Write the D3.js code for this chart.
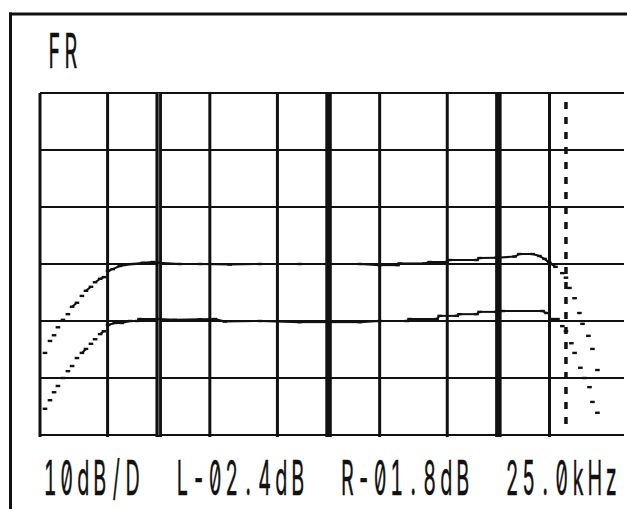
<!DOCTYPE html>
<html>
<head>
<meta charset="utf-8">
<script src="https://cdn.jsdelivr.net/npm/d3@7"></script>
<style>
  html, body { margin: 0; padding: 0; background: #fff; }
  svg { display: block; }
</style>
</head>
<body>
<svg id="chart" width="627" height="509"></svg>
<script>
// Frequency response screen: two channels, log frequency axis, 10 dB per division.

// Grid frequencies (Hz); decades are drawn heavier
const gridFreqs = [20, 50, 100, 200, 500, 1000, 2000, 5000, 10000, 20000];
const decadeFreqs = [100, 1000, 10000];
// Level grid (dB), 10 dB per division
const levelTicks = [-30, -20, -10, 0, 10, 20, 30];

// Left channel: frequency (Hz) and level (dB)
const lFreq = [21.4, 22.9, 24.2, 25.5, 27.3, 29.2, 30.9, 33.0, 35.3, 37.3, 39.9, 42.2, 45.2, 47.6, 50.3,
  53.6, 59, 70.5, 80.7, 92.4, 100, 133, 175, 262, 394, 676, 1000, 1526, 2000, 2550, 2620, 3680, 3940,
  4955, 5160, 7435, 7750, 9750, 12450, 13300, 15900, 17460, 18700, 20000, 21700, 23800, 25000, 26200,
  28100, 30000, 31300, 33900, 35800, 38300];
const lLevel = [-15.6, -13.5, -12.5, -11.1, -9.8, -8.8, -7.5, -6.8, -5.6, -4.7, -4.0, -3.2, -2.6, -2.3, -1.2,
  -0.9, -0.35, 0, 0.2, 0.35, 0.2, 0, 0, -0.1, 0, 0, 0, 0, -0.2, -0.2, 0.1, 0.1, 0.35,
  0.35, 0.7, 0.7, 1.05, 1.1, 1.3, 1.75, 1.75, 1.4, 0.9, 0.2, -0.5, -1.6, -2.4, -4.2,
  -6.0, -8.6, -10.5, -12.6, -14.9, -18.6];

// Right channel: frequency (Hz) and level (dB)
const rFreq = [21.4, 22.9, 24.2, 25.5, 27.3, 29.2, 30.9, 33.0, 35.3, 37.3, 39.9, 42.2, 45.2, 47.6, 50.3,
  55.2, 60.5, 68, 74.4, 77.1, 100, 124, 175, 214, 245, 394, 676, 1000, 1526, 2000, 2885, 3000, 4330,
  4510, 5680, 5900, 7435, 7750, 9750, 10600, 18200, 19200, 20800, 22300, 23800, 25000, 26900, 28100,
  30400, 32100, 34400, 35800, 38300];
const rLevel = [-15.4, -13.9, -12.5, -11.4, -10.0, -8.8, -7.9, -6.5, -5.6, -4.9, -4.0, -3.2, -2.3, -1.8, -0.7,
  -0.35, -0.35, 0, 0, 0.35, 0.35, 0.2, 0.3, 0.35, -0.1, 0, -0.2, -0.2, -0.2, 0, 0, 0.35, 0.35,
  0.9, 0.9, 1.2, 1.2, 1.6, 1.6, 1.75, 1.75, 1.4, 0.35, 0.35, -0.9, -1.8, -3.9, -5.6,
  -8.2, -10.0, -11.6, -14.2, -16.1];

// Right channel trace is shown one division lower
const rDisplayOffset = -10;

// Cursor and readouts
const cursorFreq = 25000;
const titleText = "FR";
const scaleText = "10dB/D";

const svg = d3.select("#chart");

const plot = { left: 40, right: 624, top: 93, bottom: 435 };

const x = d3.scaleLog().domain([20, 20000]).range([plot.left, 549.5]);
const y = d3.scaleLinear().domain([-30, 30]).range([plot.bottom, plot.top]);

// Outer frame (top and left edges)
svg.append("line").attr("x1", 9).attr("x2", 627).attr("y1", 14).attr("y2", 14)
  .attr("stroke", "#111").attr("stroke-width", 3);
svg.append("line").attr("x1", 10.5).attr("x2", 10.5).attr("y1", 12.5).attr("y2", 509)
  .attr("stroke", "#111").attr("stroke-width", 3);

// Horizontal grid
svg.append("g").selectAll("line").data(levelTicks).join("line")
  .attr("x1", plot.left).attr("x2", plot.right)
  .attr("y1", d => y(d)).attr("y2", d => y(d))
  .attr("stroke", "#111").attr("stroke-width", 2.2);

// Vertical grid
const vg = svg.append("g");
vg.selectAll("line").data(gridFreqs).join("line")
  .attr("x1", d => x(d)).attr("x2", d => x(d))
  .attr("y1", plot.top).attr("y2", plot.bottom + 2)
  .attr("stroke", "#111")
  .attr("stroke-width", d => decadeFreqs.includes(d) ? 6.5 : 3);
vg.append("line")
  .attr("x1", x(100)).attr("x2", x(100))
  .attr("y1", plot.top).attr("y2", plot.bottom)
  .attr("stroke", "#777").attr("stroke-width", 1);

// Trace: each sample is a short dash; neighbouring samples at nearly the same level are joined
function drawTrace(freqs, levels, offset) {
  const pts = freqs.map((f, i) => [x(f), y(levels[i] + offset)]);
  const g = svg.append("g");
  g.selectAll("line").data(d3.pairs(pts).filter(([a, b]) => Math.abs(a[1] - b[1]) <= 4.5)).join("line")
    .attr("x1", d => d[0][0]).attr("y1", d => d[0][1])
    .attr("x2", d => d[1][0]).attr("y2", d => d[1][1])
    .attr("stroke", "#111").attr("stroke-width", 2);
  g.selectAll("rect").data(pts).join("rect")
    .attr("x", d => d[0] - 2.3).attr("y", d => d[1] - 1.2)
    .attr("width", 4.6).attr("height", 2.4)
    .attr("fill", "#111");
}
drawTrace(lFreq, lLevel, 0);
drawTrace(rFreq, rLevel, rDisplayOffset);

// Cursor
svg.append("line")
  .attr("x1", x(cursorFreq)).attr("x2", x(cursorFreq))
  .attr("y1", 102).attr("y2", 430)
  .attr("stroke", "#111").attr("stroke-width", 3.5)
  .attr("stroke-dasharray", "7 8");

// Screen text: one glyph per fixed character cell, tall narrow lettering, slashed zeros
const cell = 16.5;
const sx = 0.72, sy = 1.75;
function cellText(str, col, baseline, x0) {
  const xs = Array.from(str, (c, i) => ((x0 + (col + i + 0.5) * cell) / sx).toFixed(2));
  svg.append("text")
    .attr("transform", `scale(${sx},${sy})`)
    .attr("x", xs.join(" "))
    .attr("y", baseline / sy)
    .attr("text-anchor", "middle")
    .attr("font-family", "Inter, 'DejaVu Sans', sans-serif")
    .attr("font-size", 27.5)
    .attr("font-weight", 400)
    .style("font-feature-settings", "'zero' 1, 'tnum' 1")
    .attr("fill", "#111")
    .attr("stroke", "#111")
    .attr("stroke-width", 0.25)
    .text(str);
}

const levelAt = (freqs, levels, f) => levels[freqs.indexOf(f)];
const fmtLevel = v => (v < 0 ? "-" : "+") + d3.format("04.1f")(Math.abs(v)) + "dB";
const lText = "L" + fmtLevel(levelAt(lFreq, lLevel, cursorFreq));
const rText = "R" + fmtLevel(levelAt(rFreq, rLevel, cursorFreq));
const fText = d3.format(".1f")(cursorFreq / 1000) + "kHz";

cellText(titleText, 0, 68, 46);
cellText(scaleText, 0, 495, 42);
cellText(lText, 8, 495, 42);
cellText(rText, 18, 495, 42);
cellText(fText, 28, 495, 42);
</script>
</body>
</html>
